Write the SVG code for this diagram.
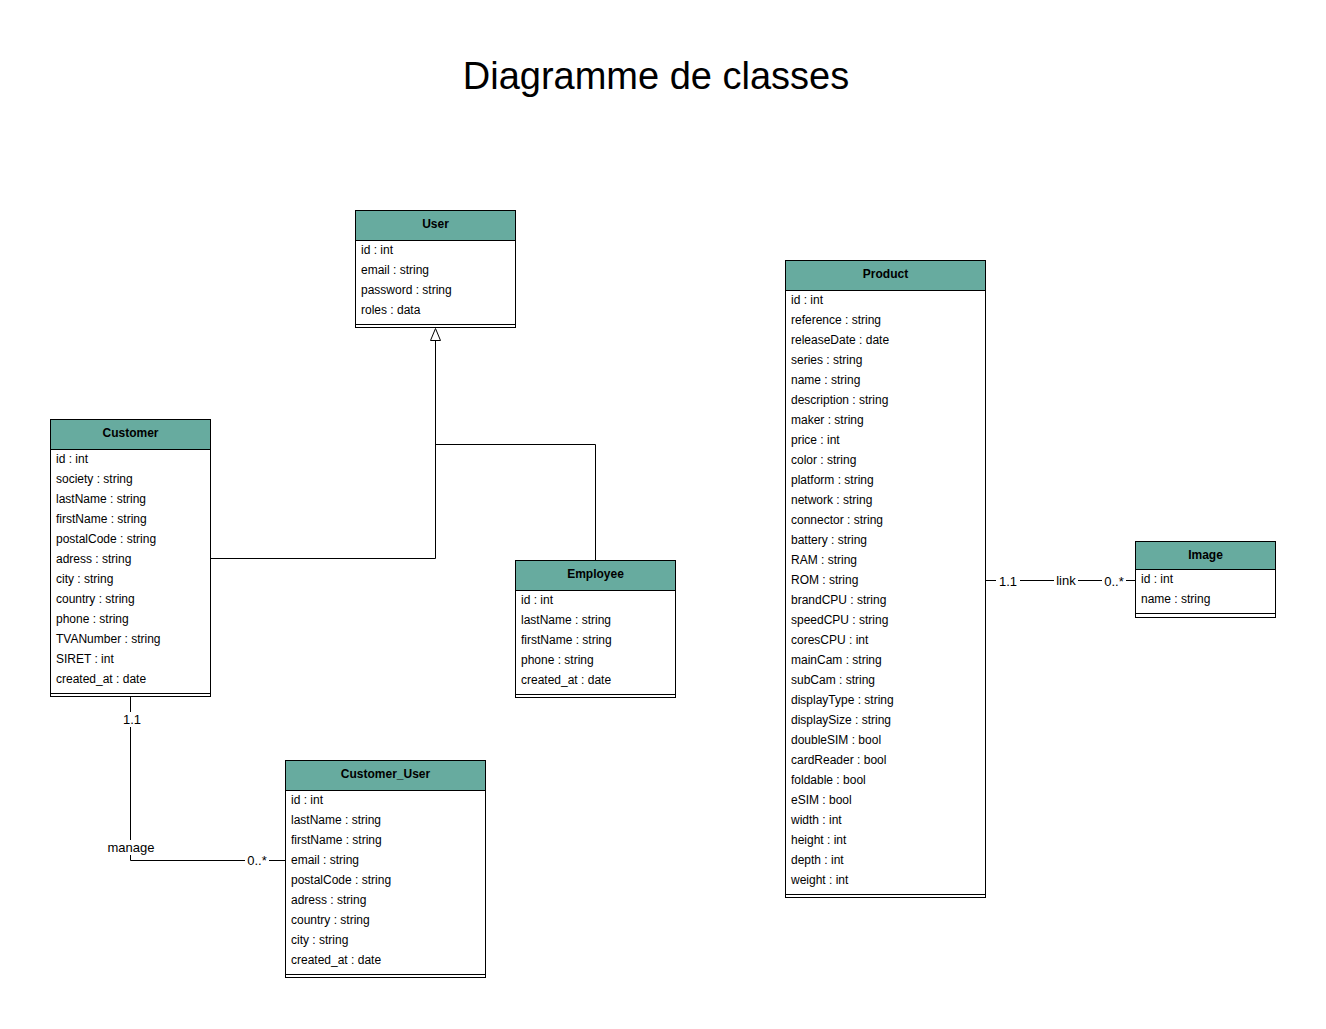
<svg xmlns="http://www.w3.org/2000/svg" width="1326" height="1029" viewBox="0 0 1326 1029">
<style>
.box{fill:#ffffff;stroke:#000000;stroke-width:1}
.hdr{fill:#67AB9F;stroke:#000000;stroke-width:1}
.sep{stroke:#000000;stroke-width:1}
.t{font-family:"Liberation Sans",Arial,sans-serif;font-size:12px;fill:#000000}
.h{font-family:"Liberation Sans",Arial,sans-serif;font-size:12px;font-weight:bold;fill:#000000;text-anchor:middle}
.title{font-family:"Liberation Sans",Arial,sans-serif;font-size:38px;fill:#000000;text-anchor:middle}
.ln{fill:none;stroke:#000000;stroke-width:1}
.lbl{font-family:"Liberation Sans",Arial,sans-serif;font-size:13px;fill:#000000;text-anchor:middle}
.lb{fill:#ffffff}
</style>
<rect width="1326" height="1029" fill="#ffffff"/>
<text class="title" x="656" y="89">Diagramme de classes</text>

<g id="connectors">
  <polyline class="ln" points="210.5,558.5 435.5,558.5 435.5,340"/>
  <polyline class="ln" points="595.5,560 595.5,444.5 435.5,444.5"/>
  <polygon points="435.5,328.5 430.5,340.5 440.5,340.5" fill="#ffffff" stroke="#000000" stroke-width="1"/>
  <polyline class="ln" points="130.5,697 130.5,860.5 285,860.5"/>
  <rect class="lb" x="120" y="712" width="24" height="15"/>
  <text class="lbl" x="132" y="724">1.1</text>
  <rect class="lb" x="106" y="840" width="50" height="15"/>
  <text class="lbl" x="131" y="852">manage</text>
  <rect class="lb" x="245" y="853" width="24" height="15"/>
  <text class="lbl" x="257" y="865">0..*</text>
  <line class="ln" x1="985" y1="580.5" x2="1135" y2="580.5"/>
  <rect class="lb" x="996" y="574" width="24" height="15"/>
  <text class="lbl" x="1008" y="586">1.1</text>
  <rect class="lb" x="1054" y="573" width="24" height="15"/>
  <text class="lbl" x="1066" y="585">link</text>
  <rect class="lb" x="1102" y="574" width="24" height="15"/>
  <text class="lbl" x="1114" y="586">0..*</text>
</g>

<g id="user">
  <rect class="box" x="355.5" y="210.5" width="160" height="117"/>
  <rect class="hdr" x="355.5" y="210.5" width="160" height="30"/>
  <text class="h" x="435.5" y="228">User</text>
  <text class="t" x="361" y="254">id : int</text>
  <text class="t" x="361" y="274">email : string</text>
  <text class="t" x="361" y="294">password : string</text>
  <text class="t" x="361" y="314">roles : data</text>
  <line class="sep" x1="355.5" y1="324.5" x2="515.5" y2="324.5"/>
</g>

<g id="customer">
  <rect class="box" x="50.5" y="419.5" width="160" height="277"/>
  <rect class="hdr" x="50.5" y="419.5" width="160" height="30"/>
  <text class="h" x="130.5" y="437">Customer</text>
  <text class="t" x="56" y="463">id : int</text>
  <text class="t" x="56" y="483">society : string</text>
  <text class="t" x="56" y="503">lastName : string</text>
  <text class="t" x="56" y="523">firstName : string</text>
  <text class="t" x="56" y="543">postalCode : string</text>
  <text class="t" x="56" y="563">adress : string</text>
  <text class="t" x="56" y="583">city : string</text>
  <text class="t" x="56" y="603">country : string</text>
  <text class="t" x="56" y="623">phone : string</text>
  <text class="t" x="56" y="643">TVANumber : string</text>
  <text class="t" x="56" y="663">SIRET : int</text>
  <text class="t" x="56" y="683">created_at : date</text>
  <line class="sep" x1="50.5" y1="693.5" x2="210.5" y2="693.5"/>
</g>

<g id="employee">
  <rect class="box" x="515.5" y="560.5" width="160" height="137"/>
  <rect class="hdr" x="515.5" y="560.5" width="160" height="30"/>
  <text class="h" x="595.5" y="578">Employee</text>
  <text class="t" x="521" y="604">id : int</text>
  <text class="t" x="521" y="624">lastName : string</text>
  <text class="t" x="521" y="644">firstName : string</text>
  <text class="t" x="521" y="664">phone : string</text>
  <text class="t" x="521" y="684">created_at : date</text>
  <line class="sep" x1="515.5" y1="694.5" x2="675.5" y2="694.5"/>
</g>

<g id="customer_user">
  <rect class="box" x="285.5" y="760.5" width="200" height="217"/>
  <rect class="hdr" x="285.5" y="760.5" width="200" height="30"/>
  <text class="h" x="385.5" y="778">Customer_User</text>
  <text class="t" x="291" y="804">id : int</text>
  <text class="t" x="291" y="824">lastName : string</text>
  <text class="t" x="291" y="844">firstName : string</text>
  <text class="t" x="291" y="864">email : string</text>
  <text class="t" x="291" y="884">postalCode : string</text>
  <text class="t" x="291" y="904">adress : string</text>
  <text class="t" x="291" y="924">country : string</text>
  <text class="t" x="291" y="944">city : string</text>
  <text class="t" x="291" y="964">created_at : date</text>
  <line class="sep" x1="285.5" y1="974.5" x2="485.5" y2="974.5"/>
</g>

<g id="product">
  <rect class="box" x="785.5" y="260.5" width="200" height="637"/>
  <rect class="hdr" x="785.5" y="260.5" width="200" height="30"/>
  <text class="h" x="885.5" y="278">Product</text>
  <text class="t" x="791" y="304">id : int</text>
  <text class="t" x="791" y="324">reference : string</text>
  <text class="t" x="791" y="344">releaseDate : date</text>
  <text class="t" x="791" y="364">series : string</text>
  <text class="t" x="791" y="384">name : string</text>
  <text class="t" x="791" y="404">description : string</text>
  <text class="t" x="791" y="424">maker : string</text>
  <text class="t" x="791" y="444">price : int</text>
  <text class="t" x="791" y="464">color : string</text>
  <text class="t" x="791" y="484">platform : string</text>
  <text class="t" x="791" y="504">network : string</text>
  <text class="t" x="791" y="524">connector : string</text>
  <text class="t" x="791" y="544">battery : string</text>
  <text class="t" x="791" y="564">RAM : string</text>
  <text class="t" x="791" y="584">ROM : string</text>
  <text class="t" x="791" y="604">brandCPU : string</text>
  <text class="t" x="791" y="624">speedCPU : string</text>
  <text class="t" x="791" y="644">coresCPU : int</text>
  <text class="t" x="791" y="664">mainCam : string</text>
  <text class="t" x="791" y="684">subCam : string</text>
  <text class="t" x="791" y="704">displayType : string</text>
  <text class="t" x="791" y="724">displaySize : string</text>
  <text class="t" x="791" y="744">doubleSIM : bool</text>
  <text class="t" x="791" y="764">cardReader : bool</text>
  <text class="t" x="791" y="784">foldable : bool</text>
  <text class="t" x="791" y="804">eSIM : bool</text>
  <text class="t" x="791" y="824">width : int</text>
  <text class="t" x="791" y="844">height : int</text>
  <text class="t" x="791" y="864">depth : int</text>
  <text class="t" x="791" y="884">weight : int</text>
  <line class="sep" x1="785.5" y1="894.5" x2="985.5" y2="894.5"/>
</g>

<g id="image">
  <rect class="box" x="1135.5" y="541.5" width="140" height="76"/>
  <rect class="hdr" x="1135.5" y="541.5" width="140" height="28"/>
  <text class="h" x="1205.5" y="559">Image</text>
  <text class="t" x="1141" y="583">id : int</text>
  <text class="t" x="1141" y="603">name : string</text>
  <line class="sep" x1="1135.5" y1="613.5" x2="1275.5" y2="613.5"/>
</g>
</svg>
